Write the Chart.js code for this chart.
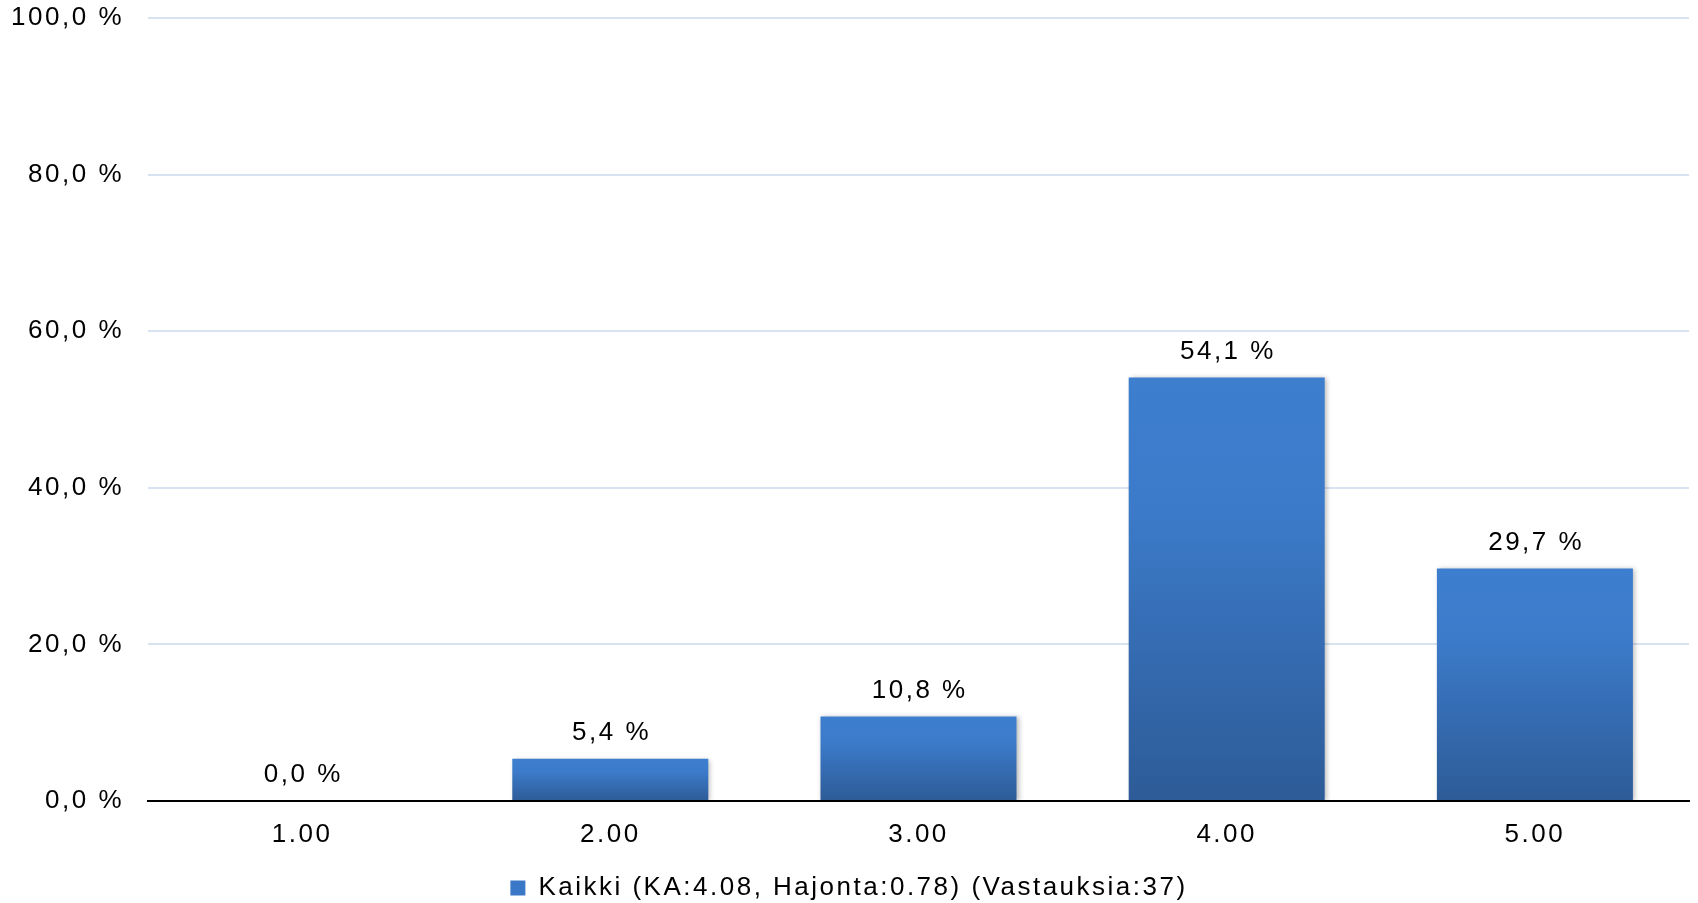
<!DOCTYPE html>
<html>
<head>
<meta charset="utf-8">
<script src="https://cdn.jsdelivr.net/npm/chart.js@4.4.1/dist/chart.umd.min.js"></script>
<style>
  html, body { margin: 0; padding: 0; background: #ffffff; }
  #wrap { width: 1698px; height: 903px; position: relative; }
</style>
</head>
<body>
<div id="wrap"><canvas id="c"></canvas></div>
<script>
const categories = ['1.00', '2.00', '3.00', '4.00', '5.00'];
const values = [0.0, 5.4, 10.8, 54.1, 29.7];
const valueLabels = ['0,0 %', '5,4 %', '10,8 %', '54,1 %', '29,7 %'];
const yTickValues = [0, 20, 40, 60, 80, 100];
const yTickLabels = ['0,0 %', '20,0 %', '40,0 %', '60,0 %', '80,0 %', '100,0 %'];
const seriesName = 'Kaikki (KA:4.08, Hajonta:0.78) (Vastauksia:37)';

const FONT = '"Liberation Sans", Arial, sans-serif';
const FSIZE = 26;
const LS = '2.5px';
const TOP_COLOR = '#3D7ECE';
const BOTTOM_COLOR = '#2D5B97';

const spacingPlugin = {
  id: 'spacing',
  beforeLayout(chart) { chart.ctx.letterSpacing = LS; },
  beforeDraw(chart) { chart.ctx.letterSpacing = LS; }
};

const shadowPlugin = {
  id: 'barShadow',
  beforeDatasetsDraw(chart) {
    const ctx = chart.ctx;
    ctx.save();
    ctx.shadowColor = 'rgba(0,0,0,0.28)';
    ctx.shadowBlur = 5;
    ctx.shadowOffsetX = 2;
    ctx.shadowOffsetY = 1;
  },
  afterDatasetsDraw(chart) {
    const ctx = chart.ctx;
    ctx.restore();
    const meta = chart.getDatasetMeta(0);
    ctx.save();
    ctx.letterSpacing = LS;
    ctx.font = FSIZE + 'px ' + FONT;
    ctx.fillStyle = '#000';
    ctx.textAlign = 'center';
    ctx.textBaseline = 'middle';
    meta.data.forEach((el, i) => {
      ctx.fillText(valueLabels[i], el.x + 1.25, el.y - 26);
    });
    ctx.restore();
  }
};

function barFill(context) {
  const chart = context.chart;
  if (!chart.chartArea || context.type !== 'data') return '#3A77C6';
  const y = chart.scales.y;
  const top = y.getPixelForValue(context.raw);
  const base = y.getPixelForValue(0);
  if (!isFinite(top) || Math.abs(base - top) < 1) return '#3A77C6';
  const g = chart.ctx.createLinearGradient(0, top, 0, base);
  g.addColorStop(0, TOP_COLOR);
  g.addColorStop(0.3, '#3C7BCA');
  g.addColorStop(1, BOTTOM_COLOR);
  return g;
}

new Chart(document.getElementById('c'), {
  type: 'bar',
  data: {
    labels: categories,
    datasets: [{
      label: seriesName,
      data: values,
      backgroundColor: barFill,
      borderWidth: 0,
      categoryPercentage: 1.0,
      barPercentage: 0.636
    }]
  },
  options: {
    responsive: true,
    maintainAspectRatio: false,
    animation: false,
    devicePixelRatio: 1,
    layout: { padding: { left: 9, right: 9, top: 18, bottom: -8 } },
    plugins: {
      tooltip: { enabled: false },
      legend: {
        display: true,
        position: 'bottom',
        labels: {
          boxWidth: 15,
          boxHeight: 15,
          padding: 10,
          color: '#000',
          font: { family: FONT, size: FSIZE }
        }
      }
    },
    scales: {
      x: {
        grid: { display: false, drawTicks: false },
        border: { display: true, color: '#000', width: 2 },
        ticks: { color: '#000', padding: 18, font: { family: FONT, size: FSIZE } },
        afterFit(s) { s.height = 64; }
      },
      y: {
        min: 0,
        max: 100,
        afterBuildTicks(s) { s.ticks = yTickValues.map(v => ({ value: v })); },
        grid: {
          drawTicks: false,
          lineWidth: 2,
          color: (c) => (c.tick && c.tick.value === 0) ? 'rgba(0,0,0,0)' : '#D8E3F1'
        },
        border: { display: false },
        ticks: {
          color: '#000',
          padding: 24,
          font: { family: FONT, size: FSIZE },
          callback: (v) => yTickLabels[yTickValues.indexOf(v)]
        },
        afterFit(s) { s.width = 139; s.paddingTop = 0; s.paddingBottom = 0; }
      }
    }
  },
  plugins: [spacingPlugin, shadowPlugin]
});
</script>
</body>
</html>
